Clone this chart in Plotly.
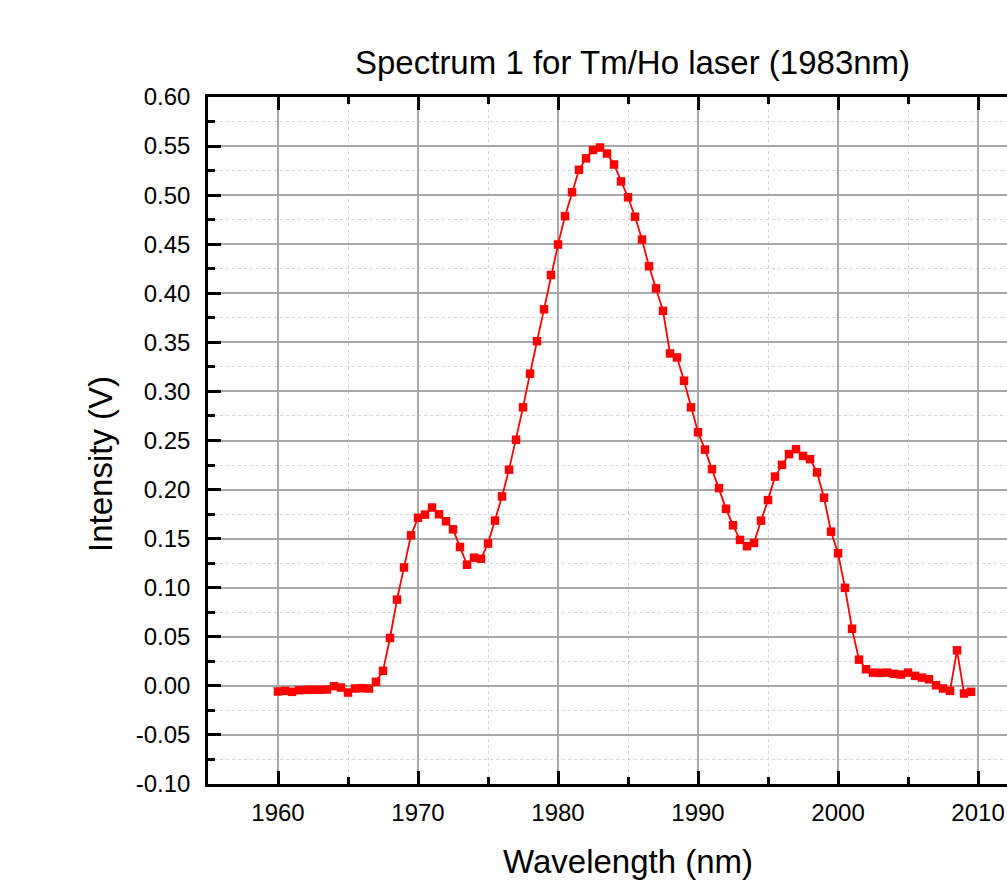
import plotly.graph_objects as go

wavelength_nm = [
    1960.0, 1960.5, 1961.0, 1961.5, 1962.0, 1962.5, 1963.0, 1963.5, 1964.0, 1964.5,
    1965.0, 1965.5, 1966.0, 1966.5, 1967.0, 1967.5, 1968.0, 1968.5, 1969.0, 1969.5,
    1970.0, 1970.5, 1971.0, 1971.5, 1972.0, 1972.5, 1973.0, 1973.5, 1974.0, 1974.5,
    1975.0, 1975.5, 1976.0, 1976.5, 1977.0, 1977.5, 1978.0, 1978.5, 1979.0, 1979.5,
    1980.0, 1980.5, 1981.0, 1981.5, 1982.0, 1982.5, 1983.0, 1983.5, 1984.0, 1984.5,
    1985.0, 1985.5, 1986.0, 1986.5, 1987.0, 1987.5, 1988.0, 1988.5, 1989.0, 1989.5,
    1990.0, 1990.5, 1991.0, 1991.5, 1992.0, 1992.5, 1993.0, 1993.5, 1994.0, 1994.5,
    1995.0, 1995.5, 1996.0, 1996.5, 1997.0, 1997.5, 1998.0, 1998.5, 1999.0, 1999.5,
    2000.0, 2000.5, 2001.0, 2001.5, 2002.0, 2002.5, 2003.0, 2003.5, 2004.0, 2004.5,
    2005.0, 2005.5, 2006.0, 2006.5, 2007.0, 2007.5, 2008.0, 2008.5, 2009.0, 2009.5,
]

intensity_v = [
    -0.0057, -0.0051, -0.0061, -0.0044, -0.0041, -0.0040, -0.0040, -0.0037, -0.0003, -0.0017,
    -0.0068, -0.0027, -0.0024, -0.0027, 0.0041, 0.0153, 0.0488, 0.0879, 0.1207, 0.1534,
    0.1712, 0.1745, 0.1817, 0.1748, 0.1677, 0.1595, 0.1415, 0.1234, 0.1306, 0.1295,
    0.1450, 0.1684, 0.1930, 0.2203, 0.2508, 0.2838, 0.3181, 0.3512, 0.3837, 0.4186,
    0.4497, 0.4786, 0.5030, 0.5258, 0.5375, 0.5460, 0.5485, 0.5424, 0.5312, 0.5140,
    0.4978, 0.4780, 0.4547, 0.4275, 0.4050, 0.3821, 0.3387, 0.3346, 0.3109, 0.2838,
    0.2584, 0.2407, 0.2208, 0.2015, 0.1804, 0.1636, 0.1487, 0.1423, 0.1456, 0.1683,
    0.1893, 0.2132, 0.2252, 0.2361, 0.2412, 0.2343, 0.2310, 0.2175, 0.1917, 0.1571,
    0.1351, 0.0999, 0.0582, 0.0267, 0.0169, 0.0135, 0.0132, 0.0135, 0.0122, 0.0115,
    0.0135, 0.0102, 0.0084, 0.0067, 0.0006, -0.0027, -0.0051, 0.0362, -0.0078, -0.0061,
]

y_tick_values = [-0.10, -0.05, 0.00, 0.05, 0.10, 0.15, 0.20, 0.25, 0.30, 0.35, 0.40, 0.45, 0.50, 0.55, 0.60]
y_tick_labels = ["-0.10", "-0.05", "0.00", "0.05", "0.10", "0.15", "0.20", "0.25",
                 "0.30", "0.35", "0.40", "0.45", "0.50", "0.55", "0.60"]

title_text = "Spectrum 1 for Tm/Ho laser (1983nm)"
x_title = "Wavelength (nm)"
y_title = "Intensity (V)"

FONT = "Arial, 'Liberation Sans', sans-serif"
MAJOR_GRID = "#a8a8a8"
MINOR_GRID = "#d4d4d4"

fig = go.Figure()
fig.add_trace(go.Scatter(
    x=wavelength_nm, y=intensity_v, mode="lines+markers",
    line=dict(color="#ff0000", width=1.8),
    marker=dict(symbol="square", size=8.5, color="#ff0000", line=dict(width=0)),
    showlegend=False,
))

axis_common = dict(
    showline=True, linecolor="black", linewidth=2.5,
    ticks="inside", ticklen=13, tickwidth=2.5, tickcolor="black",
    showgrid=True, gridcolor=MAJOR_GRID, gridwidth=1.5,
    zeroline=False,
    tickfont=dict(family=FONT, size=24, color="black"),
)

fig.update_xaxes(
    **axis_common,
    range=[1955, 2012.07], tick0=1960, dtick=10,
    mirror="ticks",
    minor=dict(dtick=5, tick0=1955, ticks="inside", ticklen=7, tickwidth=2.5,
               tickcolor="black", showgrid=True, gridcolor=MINOR_GRID,
               griddash="dot", gridwidth=1),
    ticklabelstandoff=5,
)
fig.update_yaxes(
    **axis_common,
    range=[-0.1, 0.6], tickmode="array",
    tickvals=y_tick_values, ticktext=y_tick_labels,
    mirror=False,
    minor=dict(dtick=0.025, tick0=0, ticks="inside", ticklen=7, tickwidth=2.5,
               tickcolor="black", showgrid=True, gridcolor=MINOR_GRID,
               griddash="dot", gridwidth=1),
    ticklabelstandoff=10,
)

fig.add_annotation(text=title_text, xref="paper", yref="paper",
                   x=0.5307, y=1.0495, xanchor="center", yanchor="middle",
                   showarrow=False, font=dict(family=FONT, size=33, color="black"))
fig.add_annotation(text=x_title, xref="paper", yref="paper",
                   x=0.5257, y=-0.1135, xanchor="center", yanchor="middle",
                   showarrow=False, font=dict(family=FONT, size=33, color="black"))
fig.add_annotation(text=y_title, xref="paper", yref="paper",
                   x=-0.1339, y=0.4658, xanchor="center", yanchor="middle",
                   textangle=-90, showarrow=False,
                   font=dict(family=FONT, size=33, color="black"))

fig.update_layout(
    width=1007, height=880,
    margin=dict(l=208, r=0, t=97, b=96, pad=0),
    plot_bgcolor="white", paper_bgcolor="white",
    font=dict(family=FONT, color="black"),
)

fig.write_html(
    "out.html",
    config={"displayModeBar": False},
    post_script="document.body.style.margin='0';document.body.style.overflow='hidden';",
)
